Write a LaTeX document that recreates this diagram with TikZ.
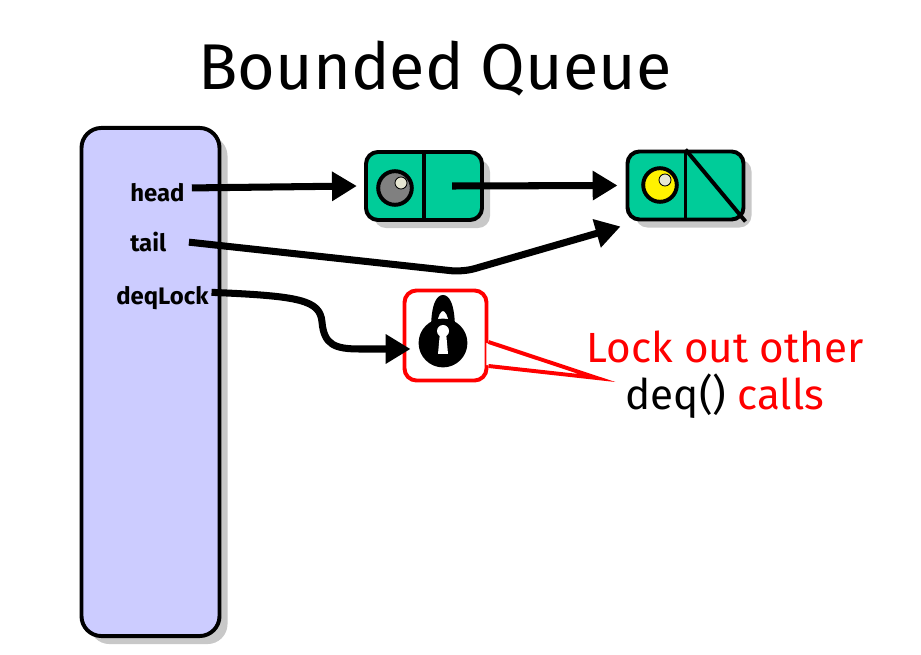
\documentclass[tikz,border=0pt]{standalone}
\usepackage{fontspec}
\setmainfont{Fira Sans}
\usetikzlibrary{positioning,arrows.meta,shadows}
\definecolor{cellgreen}{RGB}{0,204,153}
\definecolor{lavender}{RGB}{204,204,255}
\definecolor{shade}{RGB}{200,200,200}
\definecolor{shine}{RGB}{230,230,210}
\tikzset{
  shadowed/.style={drop shadow={shadow xshift=0.2cm,shadow yshift=-0.2cm,fill=shade,opacity=1}},
  cell/.style={draw,line width=2.8pt,rounded corners=0.3cm,fill=cellgreen,
    minimum width=2.9cm,minimum height=1.7cm,shadowed},
  ptr/.style={line width=5pt,-{Triangle[length=0.62cm,width=0.7cm]}},
  field/.style={font=\bfseries\fontsize{17}{20}\selectfont,inner sep=0pt,anchor=base west},
}

\begin{document}
\begin{tikzpicture}[x=0.025cm,y=-0.025cm]
  \useasboundingbox (0,0) rectangle (921,655);
  \node[font=\fontsize{46}{50}\selectfont,anchor=base] (title) at (435,90) {Bounded Queue};

  % the queue object and its fields
  \node[draw,line width=2.8pt,rounded corners=0.5cm,fill=lavender,
    minimum width=3.45cm,minimum height=12.7cm,shadowed] (queue) at (150.5,382) {};
  \node[field] (head) at (130,202) {head};
  \node[field] (tail) at (130,252) {tail};
  \node[field] (deqLock) at (116,305) {deqLock};

  % list cells
  \node[cell] (c1) at (424,186) {};
  \node[cell] (c2) at (685.5,185.5) {};
  \draw[line width=2.8pt] (c1.north) -- (c1.south);
  \draw[line width=2.8pt] (c2.north) -- (c2.south);
  \draw[line width=2.8pt] (c2.north) -- (c2.south east);
  \draw[line width=2.8pt,fill=gray] (395,188) circle[radius=0.42cm];
  \draw[line width=0.6pt,fill=shine] (401,183) circle[radius=0.15cm];
  \draw[line width=2.8pt,fill=yellow] (660,185) circle[radius=0.42cm];
  \draw[line width=0.6pt,fill=shine] (665,180) circle[radius=0.15cm];

  % the lock and its note
  \node[draw=red,line width=2.8pt,rounded corners=0.3cm,fill=white,
    minimum width=2.05cm,minimum height=2.25cm] (lockbox) at (445.5,335.5) {};
  \fill[white] ([shift={(-2,7.5)}]lockbox.east) -- (597,378) -- ([shift={(-2,29.5)}]lockbox.east) -- cycle;
  \draw[red,line width=2.8pt,line join=miter] ([yshift=-6.5*0.025cm]lockbox.east) -- (597,378) -- ([yshift=-30.5*0.025cm]lockbox.east);
  \fill[even odd rule] (431,330) .. controls (431,303) and (437,295) .. (443,295) .. controls (449,295) and (455,303) .. (455,330) -- cycle
    (437,324) .. controls (438,315) and (441,311) .. (443,311) .. controls (445,311) and (448,315) .. (449,324) -- cycle;
  \fill (443,343) circle[radius=0.61cm];
  \fill[white] (443,331) circle[radius=0.15cm];
  \fill[white] (440,332) -- (446,332) -- (448,354) -- (438,354) -- cycle;
  \node[font=\fontsize{30}{34}\selectfont,align=center,anchor=base] (note) at (725,410)
    {\color{red}Lock out other\\deq() {\color{red}calls}};

  % pointers
  \draw[ptr] ([xshift=5pt,yshift=10pt]head.base east) -- ([xshift=-0.18cm]c1.west);
  \draw[ptr] ([xshift=0.7cm]c1.center) -- ([xshift=-0.2cm]c2.west);
  \draw[ptr,rounded corners=0.3cm] ([xshift=16pt,yshift=7pt]tail.base east) -- (463,272) -- ([shift={(-5,5)}]c2.south west);
  \draw[ptr] ([xshift=2pt,yshift=9pt]deqLock.base east) .. controls (300,296) and (320,300) .. (322,322)
    .. controls (324,345) and (335,349) .. (360,349) -- ([shift={(8,13.5)}]lockbox.west);
\end{tikzpicture}
\end{document}
